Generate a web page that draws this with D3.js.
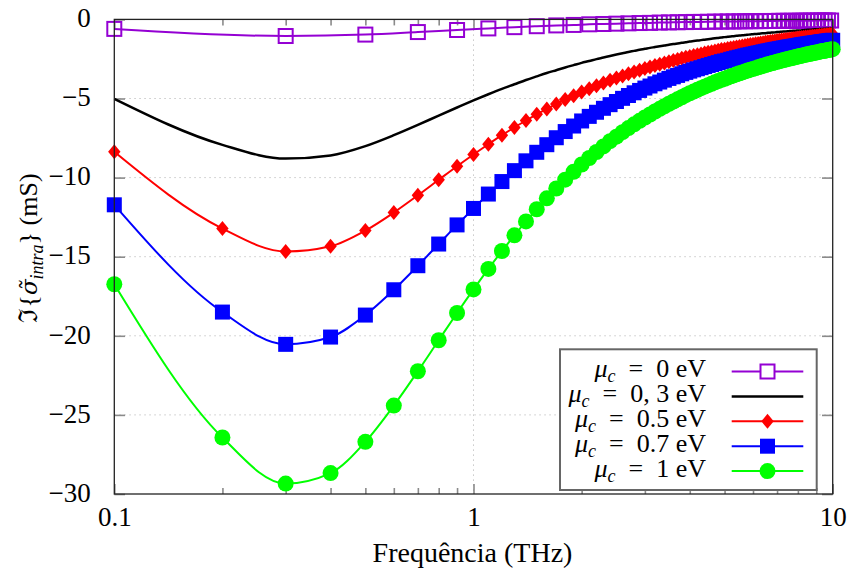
<!DOCTYPE html>
<html><head><meta charset="utf-8">
<script src="https://cdn.jsdelivr.net/npm/d3@7"></script>
<style>body{margin:0;background:#fff}</style>
</head><body>
<svg id="c" width="848" height="572"></svg>
<script>
// ---------------- DATA ----------------
const freq = [0.1,0.2,0.3,0.4,0.5,0.6,0.7,0.8,0.9,1.0,
1.1,1.2,1.3,1.4,1.5,1.6,1.7,1.8,1.9,2.0,
2.1,2.2,2.3,2.4,2.5,2.6,2.7,2.8,2.9,3.0,
3.1,3.2,3.3,3.4,3.5,3.6,3.7,3.8,3.9,4.0,
4.1,4.2,4.3,4.4,4.5,4.6,4.7,4.8,4.9,5.0,
5.1,5.2,5.3,5.4,5.5,5.6,5.7,5.8,5.9,6.0,
6.1,6.2,6.3,6.4,6.5,6.6,6.7,6.8,6.9,7.0,
7.1,7.2,7.3,7.4,7.5,7.6,7.7,7.8,7.9,8.0,
8.1,8.2,8.3,8.4,8.5,8.6,8.7,8.8,8.9,9.0,
9.1,9.2,9.3,9.4,9.5,9.6,9.7,9.8,9.9,10.0];

const freqSparse = [0.1,0.3,0.5,0.7,0.9,1.1,1.3,1.5,1.7,1.9,
2.1,2.3,2.5,2.7,2.9,3.1,3.3,3.5,3.7,3.9,
4.1,4.3,4.5,4.7,4.9,5.1,5.3,5.5,5.7,5.9,
6.1,6.3,6.5,6.7,6.9,7.1,7.3,7.5,7.7,7.9,
8.1,8.3,8.5,8.7,8.9,9.1,9.3,9.5,9.7,9.9];

const sigMu0 = [-0.60,-1.05,-0.96,-0.80,-0.67,-0.57,-0.49,-0.43,-0.38,-0.35,
-0.31,-0.29,-0.27,-0.25,-0.23,-0.22,-0.20,-0.19,-0.18,-0.17,
-0.16,-0.16,-0.15,-0.14,-0.14,-0.13,-0.13,-0.12,-0.12,-0.11,
-0.11,-0.11,-0.10,-0.10,-0.10,-0.09,-0.09,-0.09,-0.09,-0.09,
-0.08,-0.08,-0.08,-0.08,-0.08,-0.07,-0.07,-0.07,-0.07,-0.07];

const sigMu03 = [-5.02,-7.93,-8.80,-8.60,-8.01,-7.32,-6.67,-6.08,-5.57,-5.12,
-4.73,-4.39,-4.10,-3.83,-3.60,-3.39,-3.21,-3.04,-2.89,-2.75,
-2.63,-2.51,-2.41,-2.31,-2.22,-2.14,-2.06,-1.99,-1.92,-1.86,
-1.80,-1.75,-1.70,-1.65,-1.60,-1.56,-1.52,-1.48,-1.44,-1.40,
-1.37,-1.34,-1.31,-1.28,-1.25,-1.22,-1.19,-1.17,-1.15,-1.12,
-1.10,-1.08,-1.06,-1.04,-1.02,-1.00,-0.99,-0.97,-0.95,-0.94,
-0.92,-0.91,-0.89,-0.88,-0.87,-0.85,-0.84,-0.83,-0.82,-0.80,
-0.79,-0.78,-0.77,-0.76,-0.75,-0.74,-0.73,-0.72,-0.71,-0.70,
-0.70,-0.69,-0.68,-0.67,-0.66,-0.66,-0.65,-0.64,-0.63,-0.63,
-0.62,-0.61,-0.61,-0.60,-0.59,-0.59,-0.58,-0.57,-0.57,-0.56];

const sigMu05 = [-8.37,-13.22,-14.67,-14.34,-13.35,-12.21,-11.12,-10.14,-9.28,-8.54,
-7.89,-7.32,-6.83,-6.39,-6.00,-5.66,-5.35,-5.07,-4.82,-4.59,
-4.38,-4.19,-4.02,-3.85,-3.71,-3.57,-3.44,-3.32,-3.21,-3.10,
-3.01,-2.91,-2.83,-2.75,-2.67,-2.60,-2.53,-2.46,-2.40,-2.34,
-2.28,-2.23,-2.18,-2.13,-2.08,-2.04,-1.99,-1.95,-1.91,-1.88,
-1.84,-1.80,-1.77,-1.74,-1.71,-1.68,-1.65,-1.62,-1.59,-1.57,
-1.54,-1.52,-1.49,-1.47,-1.45,-1.42,-1.40,-1.38,-1.36,-1.34,
-1.32,-1.31,-1.29,-1.27,-1.25,-1.24,-1.22,-1.21,-1.19,-1.18,
-1.16,-1.15,-1.13,-1.12,-1.11,-1.10,-1.08,-1.07,-1.06,-1.05,
-1.04,-1.02,-1.01,-1.00,-0.99,-0.98,-0.97,-0.96,-0.95,-0.94];

const sigMu07 = [-11.72,-18.50,-20.54,-20.08,-18.69,-17.09,-15.57,-14.20,-12.99,-11.95,
-11.04,-10.25,-9.56,-8.94,-8.40,-7.92,-7.48,-7.09,-6.74,-6.42,
-6.13,-5.87,-5.62,-5.39,-5.19,-4.99,-4.81,-4.64,-4.49,-4.34,
-4.21,-4.07,-3.96,-3.84,-3.73,-3.63,-3.54,-3.44,-3.35,-3.27,
-3.19,-3.12,-3.05,-2.98,-2.91,-2.85,-2.79,-2.73,-2.67,-2.63,
-2.58,-2.52,-2.48,-2.43,-2.39,-2.35,-2.30,-2.26,-2.23,-2.19,
-2.16,-2.12,-2.09,-2.05,-2.02,-1.99,-1.96,-1.93,-1.90,-1.88,
-1.85,-1.83,-1.80,-1.78,-1.75,-1.73,-1.71,-1.69,-1.67,-1.65,
-1.62,-1.60,-1.58,-1.57,-1.55,-1.53,-1.51,-1.50,-1.48,-1.46,
-1.45,-1.43,-1.41,-1.40,-1.39,-1.37,-1.36,-1.34,-1.33,-1.32];

const sigMu1 = [-16.74,-26.43,-29.34,-28.68,-26.70,-24.41,-22.24,-20.28,-18.56,-17.07,
-15.77,-14.64,-13.65,-12.77,-12.00,-11.31,-10.69,-10.13,-9.63,-9.17,
-8.76,-8.38,-8.03,-7.70,-7.41,-7.13,-6.87,-6.63,-6.41,-6.20,
-6.01,-5.82,-5.65,-5.49,-5.33,-5.19,-5.05,-4.92,-4.79,-4.67,
-4.56,-4.45,-4.35,-4.25,-4.16,-4.07,-3.98,-3.90,-3.82,-3.75,
-3.68,-3.60,-3.54,-3.47,-3.41,-3.35,-3.29,-3.23,-3.18,-3.13,
-3.08,-3.03,-2.98,-2.93,-2.89,-2.84,-2.80,-2.76,-2.72,-2.68,
-2.64,-2.61,-2.57,-2.54,-2.50,-2.47,-2.44,-2.41,-2.38,-2.35,
-2.32,-2.29,-2.26,-2.24,-2.21,-2.19,-2.16,-2.14,-2.11,-2.09,
-2.07,-2.04,-2.02,-2.00,-1.98,-1.96,-1.94,-1.92,-1.90,-1.88];

const legendValues = ["0", "0, 3", "0.5", "0.7", "1"];
const yTicks = [0,-5,-10,-15,-20,-25,-30];
const yTickLabels = ["0","\u22125","\u221210","\u221215","\u221220","\u221225","\u221230"];
const xMajor = [0.1,1,10];
const xMajorLabels = ["0.1","1","10"];
const xMinor = [0.2,0.3,0.4,0.5,0.6,0.7,0.8,0.9,2,3,4,5,6,7,8,9];
const xLabel = "Frequência (THz)";

// ---------------- STYLE / LAYOUT ----------------
const FONT = "Liberation Serif";
const series = [
  {xs: freqSparse, ys: sigMu0, color:"#9400d3", marker:"osquare", lw:2},
  {xs: freq, ys: sigMu03, color:"#000000", marker:null, lw:2.5},
  {xs: freq, ys: sigMu05, color:"#ff0000", marker:"diamond", lw:2},
  {xs: freq, ys: sigMu07, color:"#0000ff", marker:"square", lw:2},
  {xs: freq, ys: sigMu1, color:"#00ff00", marker:"circle", lw:2}
];
const P = {left:114.3, right:832.7, top:19.4, bottom:494};
const svg = d3.select("#c").style("font-family",FONT);
const x = d3.scaleLog().domain([0.1,10]).range([P.left,P.right]);
const y = d3.scaleLinear().domain([-30,0]).range([P.bottom,P.top]);

// grid
const grid = svg.append("g").attr("stroke","#c8c8c8").attr("stroke-width",1).attr("stroke-dasharray","1.5,3.5");
grid.selectAll("line.h").data(yTicks.filter(v=>v>-30 && v<0)).join("line")
  .attr("x1",P.left).attr("x2",P.right).attr("y1",d=>y(d)).attr("y2",d=>y(d));
grid.selectAll("line.v").data(xMajor.filter(v=>v>0.1 && v<10)).join("line")
  .attr("y1",P.top).attr("y2",P.bottom).attr("x1",d=>x(d)).attr("x2",d=>x(d));

// axes
function styleAxis(g){
  g.attr("font-family",null).attr("font-size",null);
  g.select(".domain").remove();
  g.selectAll(".tick line").attr("stroke","#8a8a8a").attr("stroke-width",1.6);
  g.selectAll(".tick text").style("font-family",FONT).style("font-size","27px").attr("fill","#000");
}
svg.append("g").attr("transform",`translate(${P.left},0)`)
  .call(d3.axisLeft(y).tickValues(yTicks).tickSize(-10.7).tickPadding(23.6).tickFormat((d,i)=>yTickLabels[i]))
  .call(styleAxis).call(g=>g.selectAll(".tick text").attr("dy","0.27em"));
svg.append("g").attr("transform",`translate(${P.right},0)`)
  .call(d3.axisRight(y).tickValues(yTicks).tickSize(-10.7).tickFormat(""))
  .call(styleAxis);
svg.append("g").attr("transform",`translate(0,${P.bottom})`)
  .call(d3.axisBottom(x).tickValues(xMajor).tickSize(-10).tickPadding(12.8).tickFormat((d,i)=>xMajorLabels[i]))
  .call(styleAxis);
svg.append("g").attr("transform",`translate(0,${P.bottom})`)
  .call(d3.axisBottom(x).tickValues(xMinor).tickSize(-6).tickFormat(""))
  .call(styleAxis);
svg.append("g").attr("transform",`translate(0,${P.top})`)
  .call(d3.axisTop(x).tickValues(xMajor).tickSize(-10).tickFormat(""))
  .call(styleAxis);
svg.append("g").attr("transform",`translate(0,${P.top})`)
  .call(d3.axisTop(x).tickValues(xMinor).tickSize(-6).tickFormat(""))
  .call(styleAxis);

// markers
function drawMarker(g, type, cx, cy, color){
  if(type==="osquare"){
    g.append("rect").attr("x",cx-7).attr("y",cy-7).attr("width",14).attr("height",14)
     .attr("fill","none").attr("stroke",color).attr("stroke-width",2);
  } else if(type==="square"){
    g.append("rect").attr("x",cx-7.5).attr("y",cy-7.5).attr("width",15).attr("height",15).attr("fill",color);
  } else if(type==="diamond"){
    g.append("path").attr("d",`M${cx},${cy-7.5}L${cx+6.2},${cy}L${cx},${cy+7.5}L${cx-6.2},${cy}Z`).attr("fill",color);
  } else if(type==="circle"){
    g.append("circle").attr("cx",cx).attr("cy",cy).attr("r",8).attr("fill",color);
  }
}

const line = d3.line().x(d=>x(d[0])).y(d=>y(d[1])).curve(d3.curveMonotoneX);
series.forEach(s=>{
  const pts = s.xs.map((v,i)=>[v,s.ys[i]]);
  const g = svg.append("g");
  g.append("path").attr("d",line(pts)).attr("fill","none").attr("stroke",s.color)
    .attr("stroke-width",s.lw).attr("stroke-linejoin","round");
  if(s.marker) pts.forEach(p=>drawMarker(g,s.marker,x(p[0]),y(p[1]),s.color));
});

// border
svg.append("rect").attr("x",P.left).attr("y",P.top).attr("width",P.right-P.left).attr("height",P.bottom-P.top)
  .attr("fill","none").attr("stroke","#222").attr("stroke-width",1.3);

// axis labels
svg.append("text").attr("x",472.5).attr("y",561.7).attr("text-anchor","middle")
  .style("font-family",FONT).style("font-size","28px").text(xLabel);
const yl = svg.append("text").attr("transform","translate(36.5,248) rotate(-90)").attr("text-anchor","middle")
  .style("font-family",FONT).style("font-size","26px");
yl.append("tspan").text("\u2111{");
yl.append("tspan").style("font-family","DejaVu Serif").style("font-style","italic").style("font-size","23px").text("\u03c3\u0303");
yl.append("tspan").style("font-style","italic").style("font-size","18px").attr("dy",6).text("intra");
yl.append("tspan").attr("dy",-6).text("} (mS)");

// legend
const lg = svg.append("g");
lg.append("rect").attr("x",560).attr("y",349.3).attr("width",256.7).attr("height",140.7)
  .attr("fill","#fff").attr("stroke","#666").attr("stroke-width",2);
series.forEach((s,i)=>{
  const cy = 371.5 + i*24.9;
  const t = lg.append("text").attr("x",706).attr("y",cy+5.5).attr("text-anchor","end")
    .style("font-family",FONT).style("font-size","26px");
  t.append("tspan").style("font-style","italic").text("\u03bc");
  t.append("tspan").style("font-style","italic").style("font-size","18px").attr("dy",5).text("c");
  t.append("tspan").attr("dy",-5).text("\u2002=\u2002" + legendValues[i] + " eV");
  lg.append("line").attr("x1",731.7).attr("x2",803.3).attr("y1",cy).attr("y2",cy)
    .attr("stroke",s.color).attr("stroke-width",s.lw);
  if(s.marker){
    const mg = lg.append("g");
    if(s.marker==="osquare") mg.append("rect").attr("x",767.5-7).attr("y",cy-7).attr("width",14).attr("height",14).attr("fill","#fff").attr("stroke",s.color).attr("stroke-width",2);
    else drawMarker(mg,s.marker,767.5,cy,s.color);
  }
});
</script>
</body></html>
